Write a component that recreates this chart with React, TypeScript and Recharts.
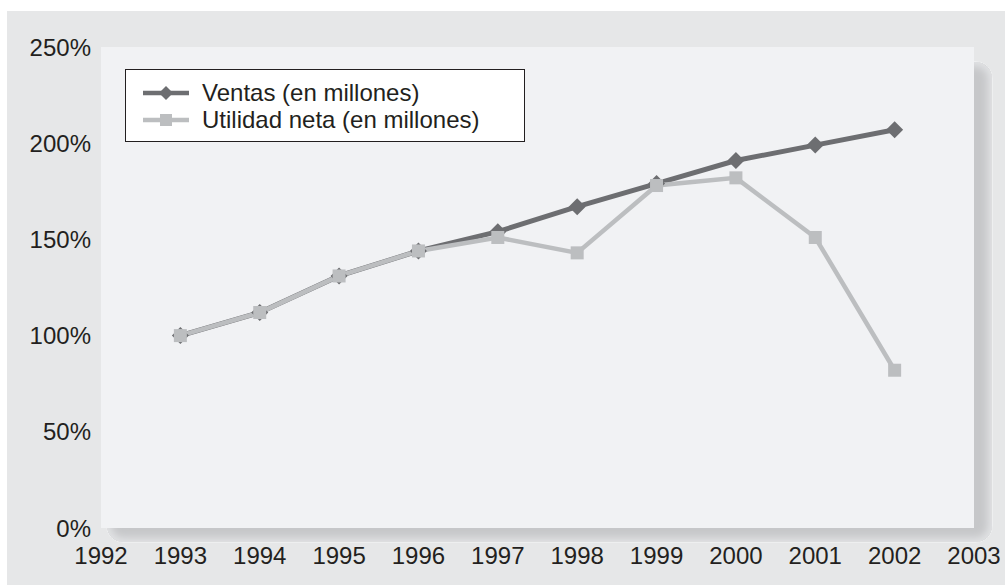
import React from 'react';
import { LineChart, Line, XAxis, YAxis, CartesianGrid, Legend } from 'recharts';

const years = [1993, 1994, 1995, 1996, 1997, 1998, 1999, 2000, 2001, 2002];
const ventas = [100, 112, 131, 144, 154, 167, 179, 191, 199, 207];
const utilidad = [100, 112, 131, 144, 151, 143, 178, 182, 151, 82];
const xTicks = [1992, 1993, 1994, 1995, 1996, 1997, 1998, 1999, 2000, 2001, 2002, 2003];
const yTicks = [0, 50, 100, 150, 200, 250];
const seriesNames = ['Ventas (en millones)', 'Utilidad neta (en millones)'];

const data = years.map((y, i) => ({ year: y, ventas: ventas[i], utilidad: utilidad[i] }));

const DARK = '#6d6e71';
const LIGHT = '#bcbec0';
const TEXT = '#231f20';
const FONT = '"Liberation Sans", Arial, Helvetica, sans-serif';

const Diamond = (props: any) => {
  const { cx, cy } = props;
  if (cx == null || cy == null) return <g />;
  const r = 8.5;
  return <path d={`M${cx},${cy - r}L${cx + r},${cy}L${cx},${cy + r}L${cx - r},${cy}Z`} fill={DARK} />;
};

const Square = (props: any) => {
  const { cx, cy } = props;
  if (cx == null || cy == null) return <g />;
  const h = 6.5;
  return <rect x={cx - h} y={cy - h} width={2 * h} height={2 * h} fill={LIGHT} />;
};

const LegendBox = () => (
  <div
    style={{
      width: 400,
      height: 73,
      boxSizing: 'border-box',
      border: `1.5px solid ${TEXT}`,
      background: '#ffffff',
      fontFamily: FONT,
      fontSize: 24,
      color: TEXT,
      position: 'relative',
    }}
  >
    {seriesNames.map((name, i) => (
      <div
        key={name}
        style={{ position: 'absolute', left: 16, top: 9 + i * 27, height: 27, display: 'flex', alignItems: 'center' }}
      >
        <svg width={48} height={20} style={{ display: 'block' }}>
          <line x1={1} y1={10} x2={47} y2={10} stroke={i === 0 ? DARK : LIGHT} strokeWidth={4.5} />
          {i === 0 ? (
            <path d="M24,3L31,10L24,17L17,10Z" fill={DARK} />
          ) : (
            <rect x={18} y={4} width={12} height={12} fill={LIGHT} />
          )}
        </svg>
        <span style={{ marginLeft: 12, lineHeight: '27px', whiteSpace: 'nowrap' }}>{name}</span>
      </div>
    ))}
  </div>
);

export default function App() {
  return (
    <div style={{ position: 'absolute', left: 0, top: 0, width: 1005, height: 585, overflow: 'hidden', background: '#ffffff' }}>
      <div style={{ position: 'absolute', left: 7, top: 11, width: 998, height: 574, background: '#e6e7e8' }} />
      <div
        style={{
          position: 'absolute',
          left: 106,
          top: 61,
          width: 887,
          height: 482,
          borderRadius: 17,
          background: '#c6c7c9',
          boxShadow: 'inset 0 0 9px 4px #e3e4e6',
          border: '1px solid #eeeff0',
          boxSizing: 'border-box',
        }}
      />
      <div style={{ position: 'absolute', left: 0, top: 0 }}>
        <LineChart
          width={1005}
          height={585}
          data={data}
          margin={{ top: 47, right: 31, bottom: 0, left: 21 }}
        >
          <CartesianGrid horizontal={false} vertical={false} fill="#f1f2f4" stroke="none" />
          <XAxis
            dataKey="year"
            type="number"
            domain={[1992, 2003]}
            ticks={xTicks}
            axisLine={false}
            tickLine={false}
            tickSize={6}
            tickMargin={13}
            interval={0}
            height={57}
            tick={{ fill: TEXT, fontSize: 24, fontFamily: FONT }}
          />
          <YAxis
            type="number"
            domain={[0, 250]}
            ticks={yTicks}
            width={80}
            axisLine={false}
            tickLine={false}
            tickSize={6}
            tickMargin={4}
            interval={0}
            tickFormatter={(v: number) => `${v}%`}
            tick={{ fill: TEXT, fontSize: 24, fontFamily: FONT }}
          />
          <Legend
            layout="vertical"
            align="center"
            verticalAlign="middle"
            content={() => <LegendBox />}
            wrapperStyle={{ left: 125, top: 69, width: 400, height: 73, margin: 0 }}
          />
          <Line
            dataKey="ventas"
            name={seriesNames[0]}
            stroke={DARK}
            strokeWidth={5}
            dot={<Diamond />}
            activeDot={false}
            isAnimationActive={false}
          />
          <Line
            dataKey="utilidad"
            name={seriesNames[1]}
            stroke={LIGHT}
            strokeWidth={4.5}
            dot={<Square />}
            activeDot={false}
            isAnimationActive={false}
          />
        </LineChart>
      </div>
    </div>
  );
}
